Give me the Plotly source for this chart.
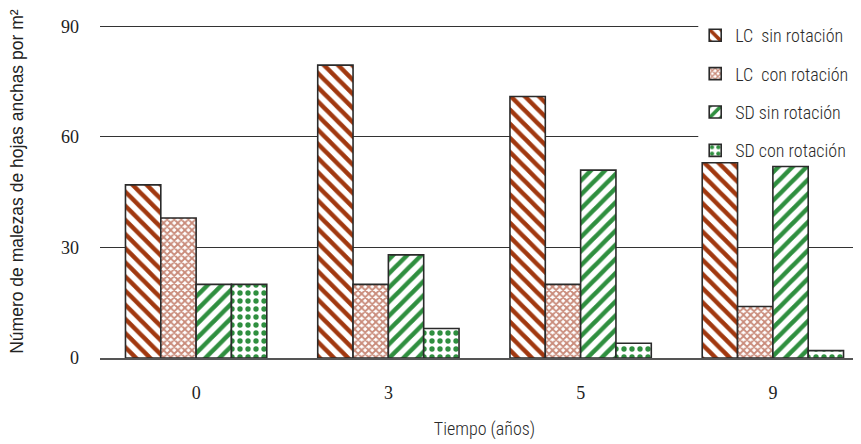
import plotly.graph_objects as go

categories = ["0", "3", "5", "9"]
series_names = ["LC  sin rotación", "LC  con rotación", "SD sin rotación", "SD con rotación"]
lc_sin = [47, 79.5, 71, 53]
lc_con = [38, 20, 20, 14]
sd_sin = [20, 28, 51, 52]
sd_con = [20, 8, 4, 2]
y_ticks = [0, 30, 60, 90]

series_values = [lc_sin, lc_con, sd_sin, sd_con]
fg_colors = ["#A1380F", "#C98B7A", "#2F8F3F", "#2F8F3F"]
shapes = ["\\", "x", "/", "."]
sizes = [10, 5, 10, 8]
solidities = [0.45, 0.6, 0.45, 0.35]

NARROW = "Roboto Condensed, Liberation Sans Narrow, Arial Narrow, sans-serif"
SERIF = "Liberation Serif, Times New Roman, serif"

fig = go.Figure()
for i, (name, vals) in enumerate(zip(series_names, series_values)):
    fig.add_trace(go.Bar(
        x=categories, y=vals, name=name, legendgroup=f"g{i}",
        marker=dict(
            color="white",
            line=dict(color="#2a2a2a", width=1.6),
            pattern=dict(shape=shapes[i], fgcolor=fg_colors[i], bgcolor="white",
                         size=sizes[i], solidity=solidities[i], fillmode="replace"),
        ),
    ))

# the page body adds an 8px offset; margins compensate so the plot sits where the reference has it
fig.update_layout(
    width=861, height=444,
    margin=dict(l=92, r=0, t=17, b=94, autoexpand=False),
    paper_bgcolor="white", plot_bgcolor="white",
    barmode="group", bargap=0.265, bargroupgap=0,
    showlegend=True,
    legend=dict(
        x=0.774, y=1.024, xanchor="left", yanchor="top",
        bgcolor="rgba(0,0,0,0)", borderwidth=0,
        font=dict(family=NARROW, size=18, color="#2a2a2a", weight=350),
        tracegroupgap=12, traceorder="grouped",
    ),
    # white panel behind the legend that interrupts the gridlines, as in the reference
    shapes=[dict(type="rect", xref="paper", yref="paper", x0=0.778, x1=0.983, y0=0.62, y1=1.03,
                 fillcolor="white", line=dict(width=0), layer="above")],
    annotations=[dict(text="Número de malezas de hojas anchas por m²", textangle=-90,
                      xref="paper", yref="paper", x=-0.108, y=0.532, xanchor="center", yanchor="middle",
                      showarrow=False,
                      font=dict(family="Liberation Sans, Arial, sans-serif", size=17.5, color="#222"))],
    xaxis=dict(
        type="category", range=[-0.5, 3.5], automargin=False,
        showline=True, linecolor="#555", linewidth=1.5,
        showgrid=False, ticks="", ticklabelstandoff=18,
        tickfont=dict(family=SERIF, size=18, color="#222"),
        title=dict(text="Tiempo (años)", font=dict(family=NARROW, size=18, color="#2a2a2a", weight=350),
                   standoff=20),
    ),
    yaxis=dict(
        range=[0, 90.4], tickvals=y_ticks, ticktext=[str(v) for v in y_ticks], automargin=False,
        showgrid=True, gridcolor="#333", gridwidth=1.3, zeroline=False, showline=False,
        ticks="", ticklabelstandoff=20,
        tickfont=dict(family=SERIF, size=18, color="#222"),
    ),
)

fig.write_html("out.html")
